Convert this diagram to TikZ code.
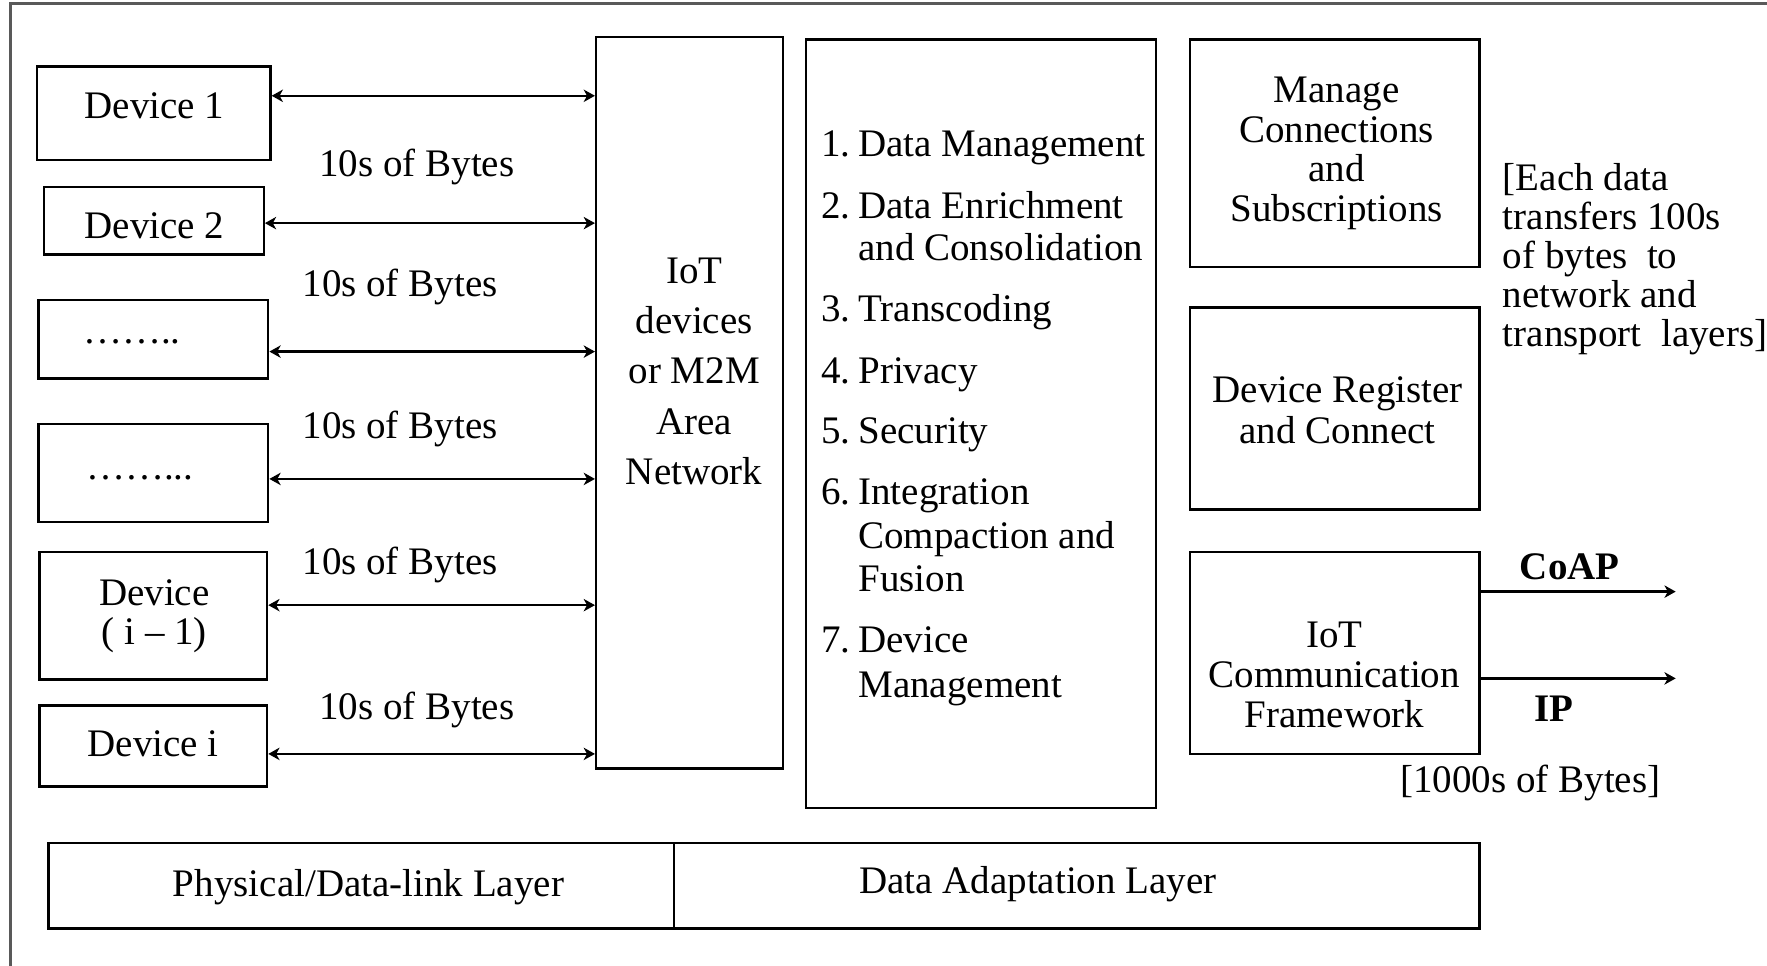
\documentclass[tikz,border=0pt]{standalone}
\usepackage{fontspec}
\setmainfont{Liberation Serif}
\usetikzlibrary{arrows.meta,fit}
\newcommand\dfont{\fontsize{9.85pt}{11pt}\selectfont}
\newcommand\fontskip[1]{\fontsize{9.85pt}{#1}\selectfont}
\newcommand\itemnum[1]{\makebox[3.3mm][l]{#1}}
\begin{document}
\begin{tikzpicture}[x=0.1mm,y=-0.1mm,
  box/.style={draw, line width=0.6pt, inner sep=0pt},
  frame/.style={draw=black!65, line width=0.8pt},
  txt/.style={inner sep=0pt, font=\dfont},
  mtxt/.style={inner sep=0pt, align=center},
  biarrow/.style={{Stealth[length=1mm,width=1.1mm,inset=0.3mm]}-{Stealth[length=1mm,width=1.1mm,inset=0.3mm]}, line width=0.6pt},
  outarrow/.style={-{Stealth[length=1mm,width=1.1mm,inset=0.3mm]}, line width=0.6pt}]
\useasboundingbox (0,0) rectangle (1568,857);

% outer frame (runs off the page at the right and bottom)
\draw[frame] (9,900) -- (9,3) -- (1600,3);

% devices
\node[box, fit={(33,59)(240,142)}]  (d1) {};
\node[box, fit={(39,166)(234,226)}] (d2) {};
\node[box, fit={(34,266)(238,336)}] (d3) {};
\node[box, fit={(34,376)(238,463)}] (d4) {};
\node[box, fit={(35,490)(237,603)}] (d5) {};
\node[box, fit={(35,626)(237,698)}] (d6) {};
\node[txt] (t1) at (137,94)  {Device 1};
\node[txt] (t2) at (137,200) {Device 2};
\node[txt] (t3) at (117,303) {……..};
\node[txt] (t4) at (124,424) {……...};
\node[mtxt, font=\fontskip{9.96pt}] (t5) at (137,547) {Device\\( i – 1)};
\node[txt] (t6) at (136,660) {Device i};

% area network
\node[box, fit={(529,33)(695,682)}] (iot) {};
\node[mtxt, font=\fontskip{12.66pt}] (iott) at (616,329.5) {IoT\\devices\\or M2M\\Area\\Network};

% links between devices and the area network
\coordinate (y1) at (0,85);
\coordinate (y2) at (0,198);
\coordinate (y3) at (0,312);
\coordinate (y4) at (0,425);
\coordinate (y5) at (0,537);
\coordinate (y6) at (0,669);
\draw[biarrow] (d1.east |- y1) -- (iot.west |- y1);
\draw[biarrow] (d2.east |- y2) -- (iot.west |- y2);
\draw[biarrow] (d3.east |- y3) -- (iot.west |- y3);
\draw[biarrow] (d4.east |- y4) -- (iot.west |- y4);
\draw[biarrow] (d5.east |- y5) -- (iot.west |- y5);
\draw[biarrow] (d6.east |- y6) -- (iot.west |- y6);
\node[txt] (b1) at (370,148) {10s of Bytes};
\node[txt] (b2) at (355,255) {10s of Bytes};
\node[txt] (b3) at (355,381) {10s of Bytes};
\node[txt] (b4) at (355,501) {10s of Bytes};
\node[txt] (b5) at (370,630) {10s of Bytes};

% data adaptation functions
\node[box, fit={(715,35)(1026,717)}] (fn) {};
\node[txt, anchor=west] (l1)  at (728,131) {\itemnum{1.}Data Management};
\node[txt, anchor=west] (l2)  at (728,182) {\itemnum{2.}Data Enrichment};
\node[txt, anchor=west] (l2b) at (761,219) {and Consolidation};
\node[txt, anchor=west] (l3)  at (728,277) {\itemnum{3.}Transcoding};
\node[txt, anchor=west] (l4)  at (728,333) {\itemnum{4.}Privacy};
\node[txt, anchor=west] (l5)  at (728,386) {\itemnum{5.}Security};
\node[txt, anchor=west] (l6)  at (728,440) {\itemnum{6.}Integration};
\node[txt, anchor=west] (l6b) at (761,478) {Compaction and};
\node[txt, anchor=west] (l6c) at (761,514) {Fusion};
\node[txt, anchor=west] (l7)  at (728,568) {\itemnum{7.}Device};
\node[txt, anchor=west] (l7b) at (761,611) {Management};

% services
\node[box, fit={(1056,35)(1313,237)}]  (mc) {};
\node[mtxt, font=\fontskip{9.96pt}] (mct) at (1186,136) {Manage\\Connections\\and\\Subscriptions};
\node[box, fit={(1056,273)(1313,452)}] (dr) {};
\node[mtxt, font=\fontskip{10.2pt}] (drt) at (1187,364) {Device Register\\and Connect};
\node[box, fit={(1056,490)(1313,669)}] (fw) {};
\node[mtxt, font=\fontskip{10.2pt}] (fwt) at (1184,599) {IoT\\Communication\\Framework};
\node[mtxt, align=left, anchor=west, font=\fontskip{9.9pt}] (note) at (1333,230)
  {[Each data\\transfers 100s\\of bytes\ \ to\\network and\\transport\ \ layers]};

% protocols
\coordinate (c1) at (1487,525);
\coordinate (c2) at (1487,602);
\draw[outarrow] (fw.east |- c1) -- (c1);
\draw[outarrow] (fw.east |- c2) -- (c2);
\node[txt, font=\dfont\bfseries] (coap) at (1393,503) {CoAP};
\node[txt, font=\dfont\bfseries] (ip) at (1379,629) {IP};
\node[txt] (kb) at (1358,695) {[1000s of Bytes]};

% layers
\node[box, fit={(43,748)(598,824)}]   (phy) {};
\node[box, fit={(598,748)(1313,824)}] (dal) {};
\node[txt] (phyt) at (327,787) {Physical/Data-link Layer};
\node[txt] (dalt) at (921,785) {Data Adaptation Layer};
\end{tikzpicture}
\end{document}
